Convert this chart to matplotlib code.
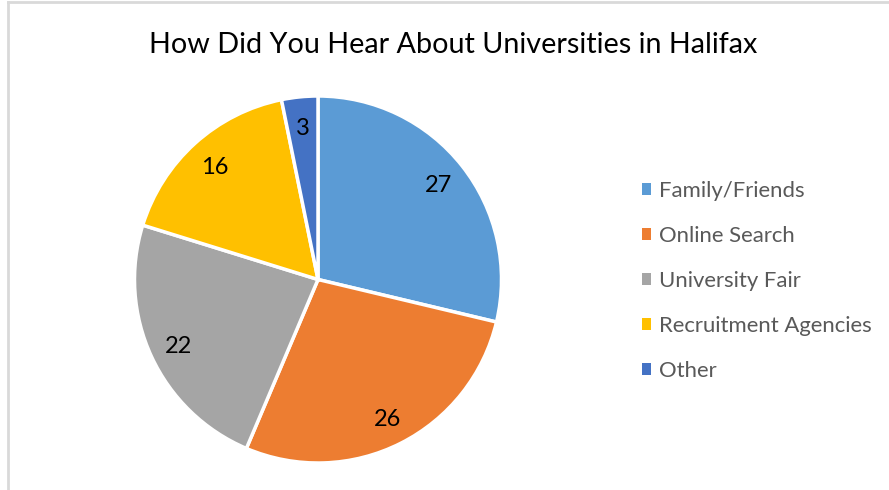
import matplotlib
matplotlib.use("Agg")
import matplotlib.pyplot as plt
from matplotlib.patches import Rectangle
from matplotlib.lines import Line2D

title = "How Did You Hear About Universities in Halifax"
categories = ["Family/Friends", "Online Search", "University Fair",
              "Recruitment Agencies", "Other"]
counts = [27, 26, 22, 16, 3]
colors = ["#5B9BD5", "#ED7D31", "#A5A5A5", "#FFC000", "#4472C4"]

plt.rcParams['font.family'] = ['Lato', 'DejaVu Sans']

W, H = 889, 490
fig = plt.figure(figsize=(W / 100, H / 100), dpi=100)
fig.patch.set_facecolor("white")

# chart-area border (left and top edges)
fig.add_artist(Line2D([7.5 / W, 7.5 / W], [0, 1 - 2 / H], color="#d9d9d9",
                      lw=2, transform=fig.transFigure))
fig.add_artist(Line2D([7.5 / W, 1], [1 - 2 / H, 1 - 2 / H], color="#d9d9d9",
                      lw=2, transform=fig.transFigure))

cx, cy, r = 318, 490 - 279.5, 183.5
ax = fig.add_axes([(cx - r) / W, (cy - r) / H, 2 * r / W, 2 * r / H])
wedges, texts = ax.pie(counts, colors=colors, startangle=90, counterclock=False,
                       labels=[str(c) for c in counts], labeldistance=0.84,
                       wedgeprops=dict(edgecolor="white", linewidth=2.5),
                       textprops=dict(fontsize=17, color="black"))
for t in texts:
    t.set_ha("center")
    t.set_va("center_baseline")
ax.set_xlim(-1, 1)
ax.set_ylim(-1, 1)
ax.set_aspect("equal")
ax.axis("off")

fig.text(453 / W, 1 - 45 / H, title, ha="center", va="center",
         fontsize=20.7, color="black")

handles = [Rectangle((0, 0), 1, 1, facecolor=c, edgecolor="none") for c in colors]
leg = fig.legend(handles, categories, loc="upper left",
                 bbox_to_anchor=(642 / W, 1 - 181 / H), frameon=False,
                 fontsize=15.9, handlelength=0.41, handleheight=0.41,
                 handletextpad=0.38, labelspacing=1.13, borderpad=0,
                 borderaxespad=0)
for t in leg.get_texts():
    t.set_color("#595959")

fig.savefig("out.png", dpi=100, facecolor="white")
